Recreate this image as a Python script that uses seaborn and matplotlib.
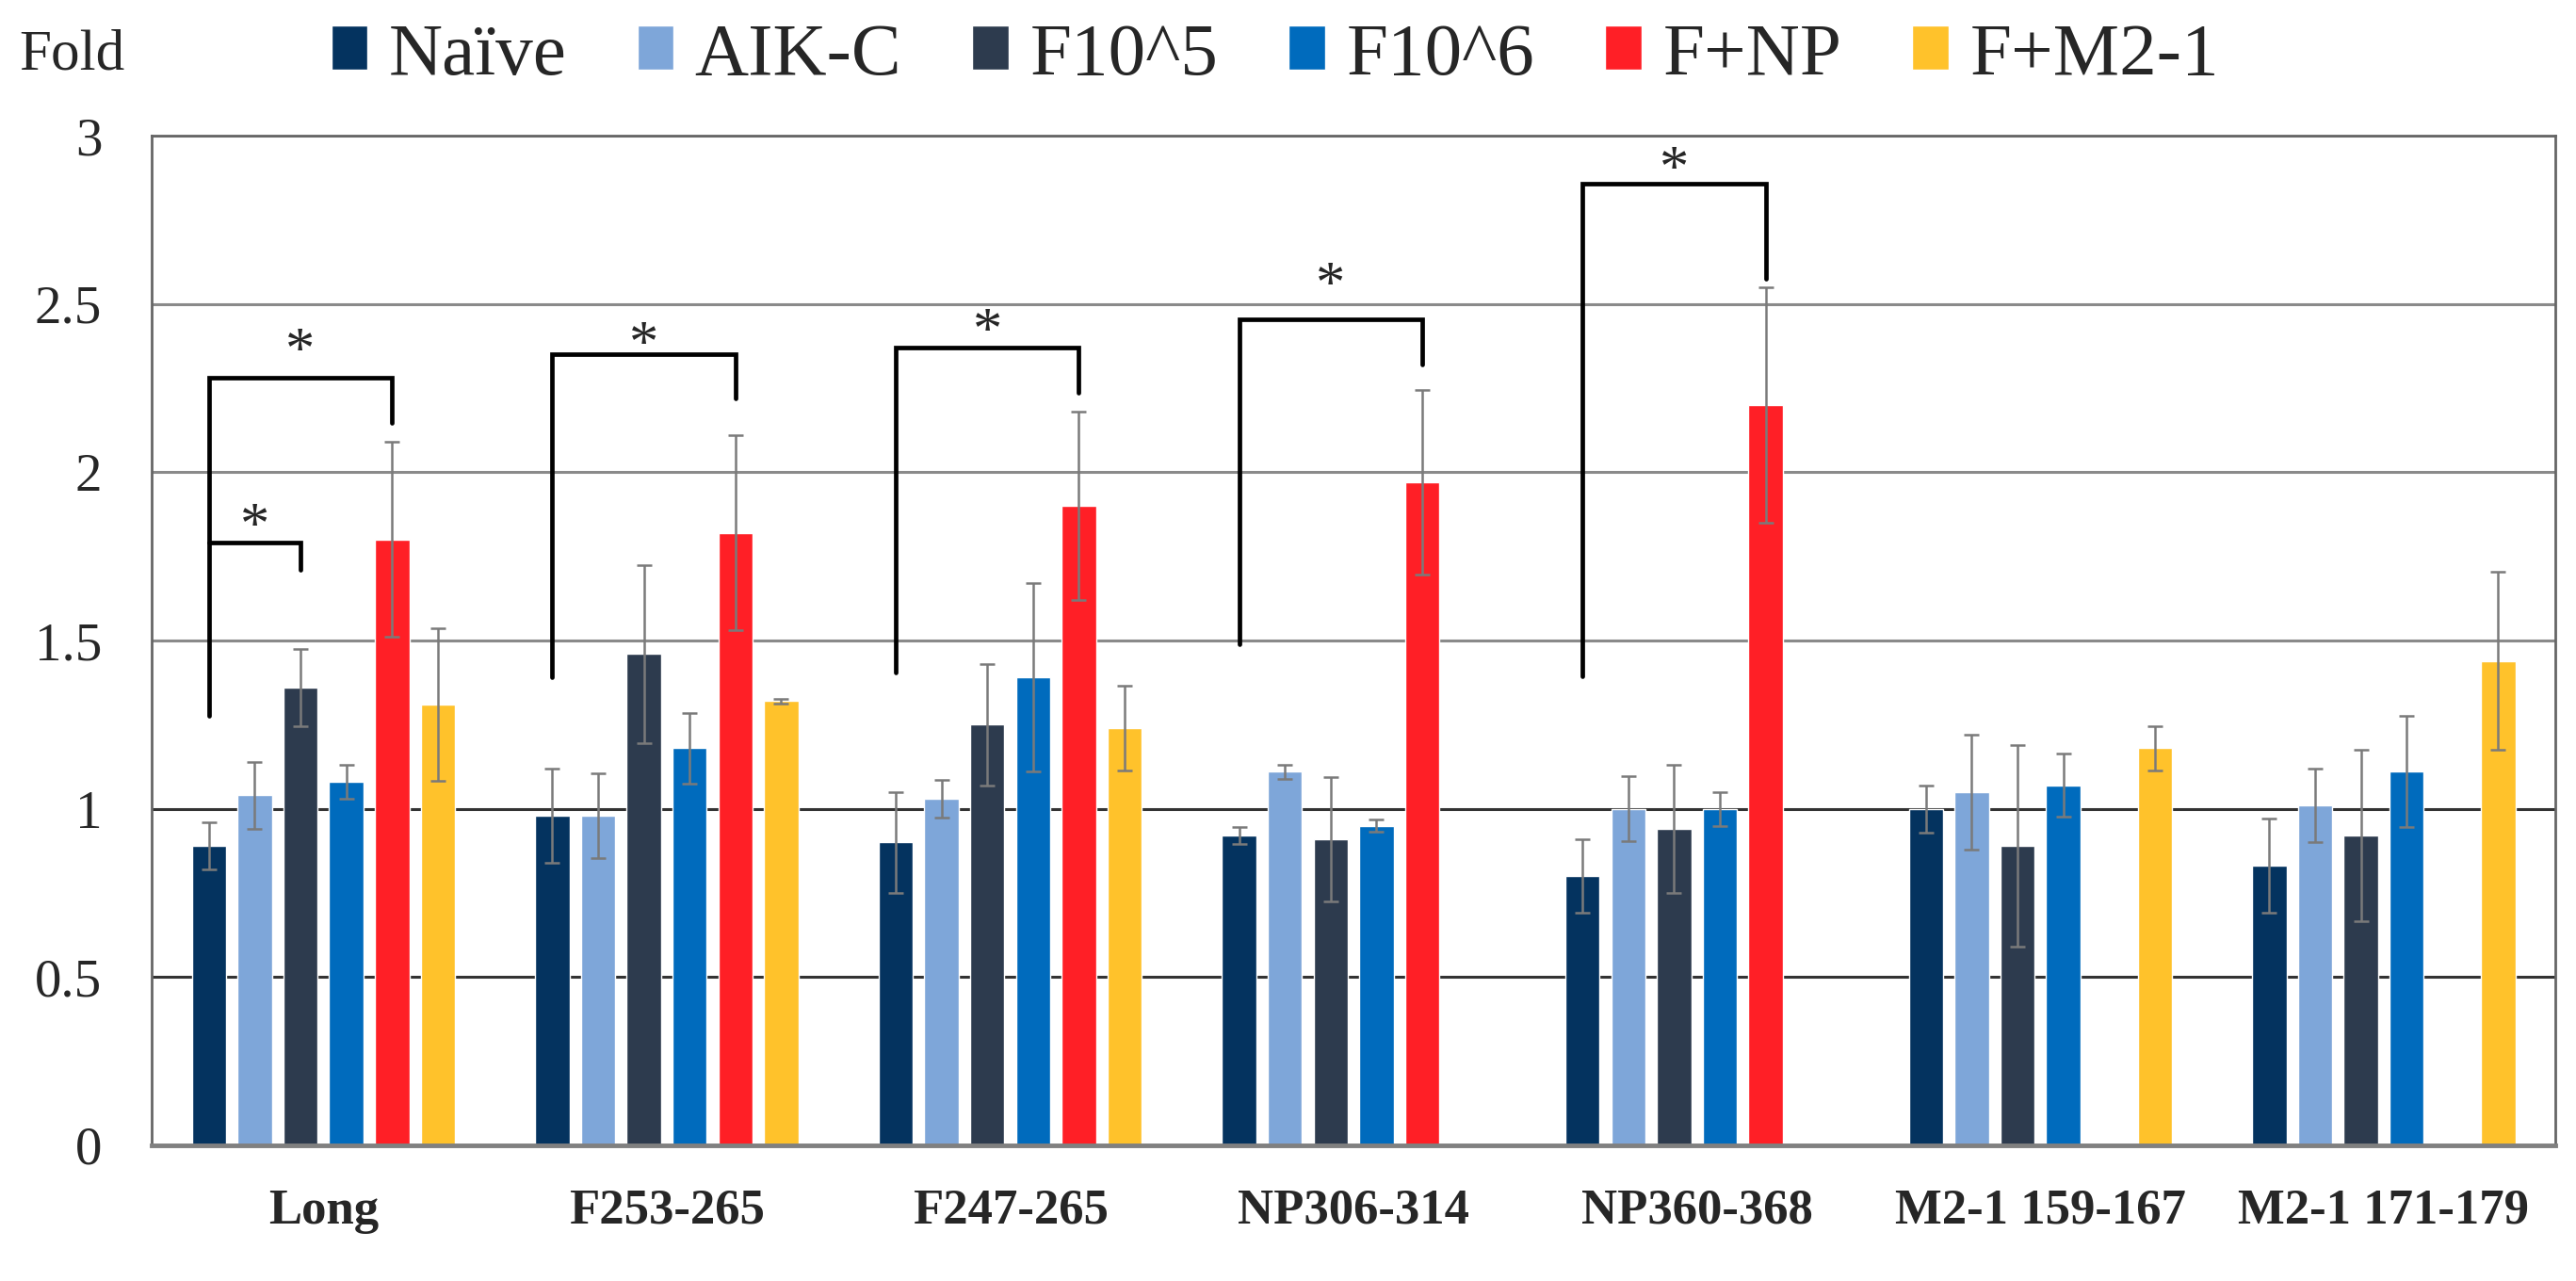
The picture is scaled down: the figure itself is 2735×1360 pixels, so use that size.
import numpy as np
import pandas as pd
import matplotlib
matplotlib.use("Agg")
import matplotlib.pyplot as plt
from matplotlib.ticker import FuncFormatter
import seaborn as sns

# Categories and groups
epitopes = ["Long", "F253-265", "F247-265", "NP306-314", "NP360-368",
            "M2-1 159-167", "M2-1 171-179"]
groups = ["Naïve", "AIK-C", "F10^5", "F10^6", "F+NP", "F+M2-1"]
colors = ["#04335F", "#7EA6D9", "#2D3B4E", "#006BBD", "#FF1F26", "#FFC22B"]

# Mean fold values (one per epitope)
naive = [0.89, 0.98, 0.90, 0.92, 0.80, 1.00, 0.83]
aikc = [1.04, 0.98, 1.03, 1.11, 1.00, 1.05, 1.01]
f10_5 = [1.36, 1.46, 1.25, 0.91, 0.94, 0.89, 0.92]
f10_6 = [1.08, 1.18, 1.39, 0.95, 1.00, 1.07, 1.11]
f_np = [1.80, 1.82, 1.90, 1.97, 2.20, 0, 0]
f_m21 = [1.31, 1.32, 1.24, 0, 0, 1.18, 1.44]

# Error bar half-lengths
naive_err = [0.07, 0.14, 0.15, 0.025, 0.11, 0.07, 0.14]
aikc_err = [0.10, 0.125, 0.057, 0.02, 0.097, 0.17, 0.11]
f10_5_err = [0.115, 0.265, 0.18, 0.185, 0.19, 0.30, 0.255]
f10_6_err = [0.05, 0.105, 0.28, 0.017, 0.05, 0.093, 0.165]
f_np_err = [0.29, 0.29, 0.28, 0.275, 0.35, 0, 0]
f_m21_err = [0.227, 0.007, 0.127, 0, 0, 0.065, 0.265]

# Significance brackets: Naive vs. another group within one epitope
brk_epitope = [0, 0, 1, 2, 3, 4]
brk_to = [4, 2, 4, 4, 4, 4]
brk_top = [2.28, 1.79, 2.35, 2.37, 2.456, 2.857]
brk_left_end = [1.275, 1.79, 1.39, 1.405, 1.49, 1.393]
brk_right_end = [2.147, 1.71, 2.22, 2.237, 2.32, 2.576]
star_y = [2.39, 1.87, 2.41, 2.45, 2.587, 2.93]

yticks = [0, 0.5, 1, 1.5, 2, 2.5, 3]

values = [naive, aikc, f10_5, f10_6, f_np, f_m21]
errors = [naive_err, aikc_err, f10_5_err, f10_6_err, f_np_err, f_m21_err]

df = pd.concat([pd.DataFrame({"epitope": epitopes, "fold": v, "group": g})
                for g, v in zip(groups, values)], ignore_index=True)

sns.set_style("white")
plt.rcParams['font.family'] = ['Liberation Serif', 'DejaVu Serif']

fig = plt.figure(figsize=(27.35, 13.6), dpi=100)
ax = fig.add_axes([0.0589, 0.1059, 0.9331, 0.7881])

sns.barplot(data=df, x="epitope", y="fold", hue="group", order=epitopes,
            hue_order=groups, palette=colors, width=0.8, gap=0.25,
            errorbar=None, saturation=1, ax=ax)

# Error bars on top of each bar
for cont, errs in zip(ax.containers, errors):
    xs, ys, es = [], [], []
    for bar, e in zip(cont, errs):
        if bar.get_height() > 0 and e > 0:
            xs.append(bar.get_x() + bar.get_width() / 2)
            ys.append(bar.get_height())
            es.append(e)
    ax.errorbar(xs, ys, yerr=es, fmt='none', ecolor='#7a7a7a',
                elinewidth=1.8, capsize=6, capthick=1.8, zorder=4)

# Brackets and stars
def bar_center(group_idx, epi_idx):
    b = ax.containers[group_idx][epi_idx]
    return b.get_x() + b.get_width() / 2

for i in range(len(brk_epitope)):
    x1 = bar_center(0, brk_epitope[i])
    x2 = bar_center(brk_to[i], brk_epitope[i])
    ax.plot([x1, x1, x2, x2],
            [brk_left_end[i], brk_top[i], brk_top[i], brk_right_end[i]],
            color='black', lw=3.4, solid_joinstyle='miter', zorder=5)
    # va='center' sits the glyph a little high, pull it down
    ax.text((x1 + x2) / 2, star_y[i] - 0.04, "*", ha='center', va='center',
            fontsize=45, zorder=6)

ax.set_xlim(-0.5, 6.5)
ax.set_ylim(0, 3)
ax.set_yticks(yticks)
ax.yaxis.set_major_formatter(FuncFormatter(lambda v, p: f"{v:g}"))
ax.set_xlabel("")
ax.set_ylabel("")
ax.tick_params(axis='y', length=0, pad=38, labelsize=41)
ax.tick_params(axis='x', length=0, pad=33, labelsize=38)
for lab in ax.get_xticklabels():
    lab.set_fontweight('bold')

ax.set_axisbelow(True)
ax.yaxis.grid(True)
for line, t in zip(ax.get_ygridlines(), yticks):
    if t in (0.5, 1):
        line.set_color('#333333')
    else:
        line.set_color('#8a8a8a')
    line.set_linewidth(2.2)

for side in ['left', 'right', 'top']:
    ax.spines[side].set_visible(True)
    ax.spines[side].set_color('#666666')
    ax.spines[side].set_linewidth(2)
ax.spines['bottom'].set_color('#808080')
ax.spines['bottom'].set_linewidth(3.5)

handles, labels = ax.get_legend_handles_labels()
ax.get_legend().remove()
fig.legend(handles, labels, ncol=6, loc='center', bbox_to_anchor=(0.495, 0.956),
           frameon=False, fontsize=57, handlelength=0.49, handleheight=0.52,
           handletextpad=0.28, columnspacing=0.95, borderpad=0)

fig.text(0.0073, 0.946, "Fold", fontsize=44, ha='left', va='baseline')

fig.savefig("out.png", dpi=100)
